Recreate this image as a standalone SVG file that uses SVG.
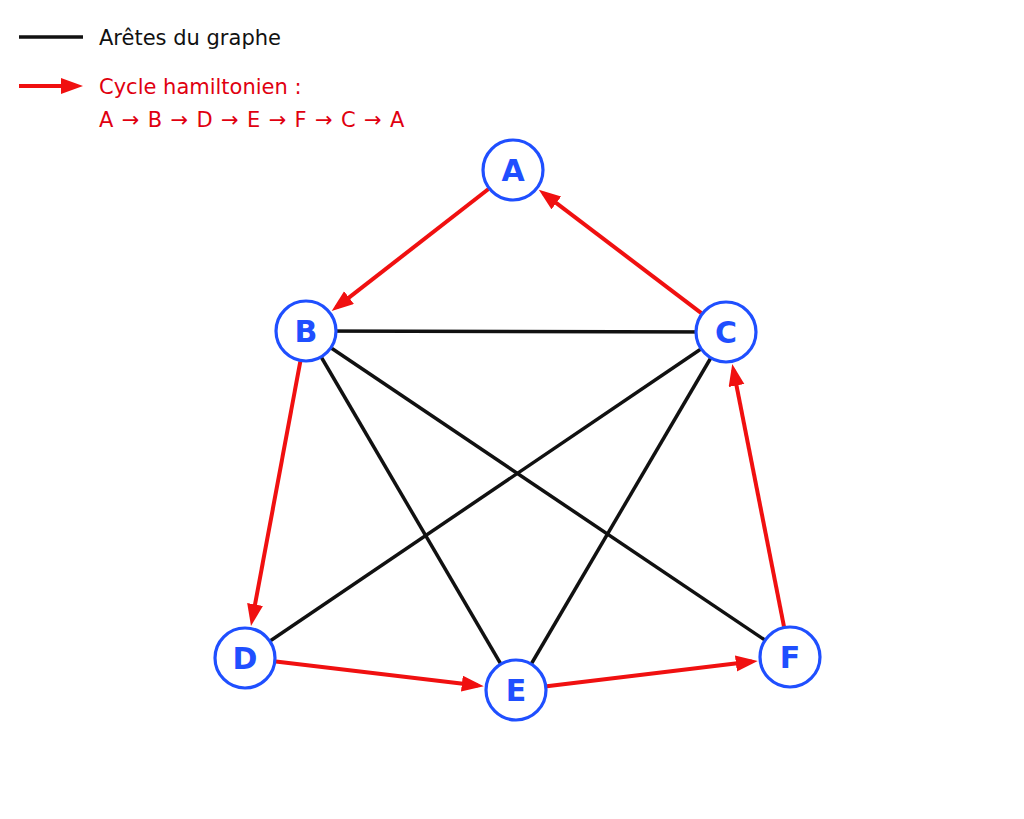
<svg xmlns="http://www.w3.org/2000/svg" width="1024" height="819" viewBox="0 0 1024 819">
<style>
.edge{stroke:#111;stroke-width:3.5;fill:none}
.cyc{stroke:#f01010;stroke-width:4;fill:none;marker-end:url(#ah)}
.node circle{fill:#fff;stroke:#1f4fff;stroke-width:3.2}
.node text{font-family:"DejaVu Sans","Liberation Sans",sans-serif;font-weight:bold;font-size:30px;fill:#1f4fff;text-anchor:middle}
.leg{font-family:"DejaVu Sans","Liberation Sans",sans-serif;font-size:21px}
</style>
<defs>
<marker id="ah" markerUnits="userSpaceOnUse" markerWidth="24" markerHeight="18" refX="16" refY="8" orient="auto">
<path d="M0,0 L22,8 L0,16 z" fill="#f01010"/>
</marker>
</defs>
<rect width="1024" height="819" fill="#fff"/>
<g id="legend">
<line x1="19" y1="37" x2="83" y2="37" stroke="#111" stroke-width="3.5"/>
<text class="leg" x="99" y="45" fill="#111">Arêtes du graphe</text>
<line x1="19" y1="86" x2="77" y2="86" class="cyc"/>
<text class="leg" x="99" y="94" fill="#e00010">Cycle hamiltonien :</text>
<text class="leg" x="99" y="127" fill="#e00010" word-spacing="1.7">A → B → D → E → F → C → A</text>
</g>
<g id="connectors">
<line class="edge" x1="306" y1="331" x2="726" y2="332"/>
<line class="edge" x1="306" y1="331" x2="516" y2="690"/>
<line class="edge" x1="306" y1="331" x2="790" y2="657"/>
<line class="edge" x1="726" y1="332" x2="245" y2="658"/>
<line class="edge" x1="726" y1="332" x2="516" y2="690"/>
<line class="cyc" x1="488.5" y1="189" x2="336.4" y2="307.4"/>
<line class="cyc" x1="300.3" y1="361.5" x2="252.1" y2="620.2"/>
<line class="cyc" x1="275.8" y1="661.6" x2="477.8" y2="685.5"/>
<line class="cyc" x1="546.8" y1="686.3" x2="751.8" y2="661.6"/>
<line class="cyc" x1="784" y1="626.6" x2="733.4" y2="369.8"/>
<line class="cyc" x1="701.3" y1="313.2" x2="543.6" y2="193.3"/>
</g>
<g id="node-A" class="node"><circle cx="513" cy="170" r="30"/><text x="513" y="181">A</text></g>
<g id="node-B" class="node"><circle cx="306" cy="331" r="30"/><text x="306" y="342">B</text></g>
<g id="node-C" class="node"><circle cx="726" cy="332" r="30"/><text x="726" y="343">C</text></g>
<g id="node-D" class="node"><circle cx="245" cy="658" r="30"/><text x="245" y="669">D</text></g>
<g id="node-E" class="node"><circle cx="516" cy="690" r="30"/><text x="516" y="701">E</text></g>
<g id="node-F" class="node"><circle cx="790" cy="657" r="30"/><text x="790" y="668">F</text></g>
</svg>
